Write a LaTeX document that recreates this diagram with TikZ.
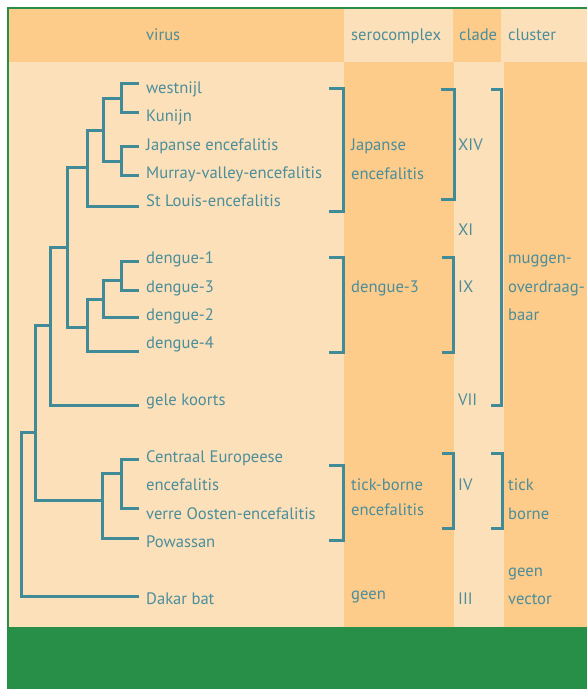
\documentclass[tikz,border=0pt]{standalone}
\usepackage{fontspec}
\setmainfont{PT Sans}
\definecolor{paleband}{HTML}{FCE0B9}
\definecolor{deepband}{HTML}{FDCB8A}
\definecolor{framegreen}{HTML}{288F48}
\definecolor{inkteal}{HTML}{4B8E9B}
\definecolor{treeline}{HTML}{418A98}
% square bracket: arms start at x=#1, spine at x=#2, from y=#3 to y=#4
\newcommand{\bracketmark}[4]{\draw[branch] (#1,#3) -| (#2,#4) -- (#1,#4);}
\begin{document}
\begin{tikzpicture}[x=1pt,y=-1pt,
  branch/.style={draw=treeline, line width=3pt, line join=miter},
  lbl/.style={text=inkteal, font=\fontsize{16.6}{19}\selectfont, anchor=base west, inner sep=0pt, yshift=1.8pt},
]
\useasboundingbox (0,0) rectangle (587,689);
\fill[white] (0,0) rectangle (587,689);
% green frame and foot band
\fill[framegreen] (7,7) rectangle (587,689);
% header cells
\fill[deepband] (9,9) rectangle (343.5,62);
\fill[paleband] (343.5,9) rectangle (453,62);
\fill[deepband] (453,9) rectangle (501,62);
\fill[paleband] (501,9) rectangle (587,62);
% column bodies
\fill[paleband] (9,62) rectangle (343.5,627);
\fill[deepband] (343.5,62) rectangle (454,627);
\fill[paleband] (454,62) rectangle (503.5,627);
\fill[deepband] (503.5,62) rectangle (587,627);

% header texts
\node[lbl] (h-virus) at (146,41.8) {virus};
\node[lbl] (h-sero) at (351,41.8) {serocomplex};
\node[lbl] (h-clade) at (459,41.8) {clade};
\node[lbl] (h-cluster) at (508,41.8) {cluster};

% leaf labels
\node[lbl] (t-wn) at (146,95) {westnijl};
\node[lbl] (t-ku) at (146,123.4) {Kunijn};
\node[lbl] (t-je) at (146,151.8) {Japanse encefalitis};
\node[lbl] (t-mv) at (146,180.2) {Murray-valley-encefalitis};
\node[lbl] (t-sl) at (146,208.6) {St Louis-encefalitis};
\node[lbl] (t-d1) at (146,265.4) {dengue-1};
\node[lbl] (t-d3) at (146,293.8) {dengue-3};
\node[lbl] (t-d2) at (146,322.2) {dengue-2};
\node[lbl] (t-d4) at (146,350.6) {dengue-4};
\node[lbl] (t-gk) at (146,407.4) {gele koorts};
\node[lbl] (t-ce) at (146,464.2) {Centraal Europeese};
\node[lbl] (t-ce2) at (146,492.6) {encefalitis};
\node[lbl] (t-vo) at (146,521) {verre Oosten-encefalitis};
\node[lbl] (t-pw) at (146,549.4) {Powassan};
\node[lbl] (t-db) at (146,606.2) {Dakar bat};

% serocomplex labels
\node[lbl] (s-je1) at (351,152.5) {Japanse};
\node[lbl] (s-je2) at (351,181) {encefalitis};
\node[lbl] (s-den) at (351,294) {dengue-3};
\node[lbl] (s-tb1) at (351,492) {tick-borne};
\node[lbl] (s-tb2) at (351,517.5) {encefalitis};
\node[lbl] (s-none) at (351,601) {geen};

% clade labels
\node[lbl] (c-xiv) at (458,152.5) {XIV};
\node[lbl] (c-xi) at (458,237) {XI};
\node[lbl] (c-ix) at (458,293.8) {IX};
\node[lbl] (c-vii) at (458,407.4) {VII};
\node[lbl] (c-iv) at (458,492.6) {IV};
\node[lbl] (c-iii) at (458,606.2) {III};

% cluster labels
\node[lbl] (k-m1) at (508,265.4) {muggen-};
\node[lbl] (k-m2) at (508,293.8) {overdraag-};
\node[lbl] (k-m3) at (508,322.2) {baar};
\node[lbl] (k-t1) at (508,492.6) {tick};
\node[lbl] (k-t2) at (508,521) {borne};
\node[lbl] (k-g1) at (508,577.8) {geen};
\node[lbl] (k-g2) at (508,606.2) {vector};

% branch tips
\coordinate (wn) at (139,83.3);
\coordinate (ku) at (139,112.7);
\coordinate (je) at (139,146);
\coordinate (mv) at (139,175);
\coordinate (sl) at (139,206);
\coordinate (d1) at (139,261);
\coordinate (d3) at (139,290);
\coordinate (d2) at (139,317.7);
\coordinate (d4) at (139,351.7);
\coordinate (gk) at (139,405);
\coordinate (ce) at (139,459);
\coordinate (vo) at (139,508.3);
\coordinate (pw) at (139,538.7);
\coordinate (db) at (139,596);

% inner nodes
\coordinate (n1) at (121,98.3);
\coordinate (n2) at (121,161);
\coordinate (n12) at (103.3,130.7);
\coordinate (n3) at (87.7,167.7);
\coordinate (n5) at (121,280);
\coordinate (n6) at (103.3,299);
\coordinate (nd) at (87.5,327);
\coordinate (n4) at (67.3,247);
\coordinate (n7) at (50.7,325.7);
\coordinate (n9) at (121,473.3);
\coordinate (nt) at (102.7,500);
\coordinate (n8) at (35.7,432.3);
\coordinate (root) at (21,514);

% tree
\draw[branch] (wn) -| (n1) |- (ku);
\draw[branch] (je) -| (n2) |- (mv);
\draw[branch] (n1) -| (n12) |- (n2);
\draw[branch] (n12) -| (n3) |- (sl);
\draw[branch] (d1) -| (n5) |- (d3);
\draw[branch] (n5) -| (n6) |- (d2);
\draw[branch] (n6) -| (nd) |- (d4);
\draw[branch] (n3) -| (n4) |- (nd);
\draw[branch] (n4) -| (n7) |- (gk);
\draw[branch] (ce) -| (n9) |- (vo);
\draw[branch] (n9) -| (nt) |- (pw);
\draw[branch] (n7) -| (n8) |- (nt);
\draw[branch] (n8) -| (root) |- (db);

% group brackets
\bracketmark{329.3}{343.3}{88.3}{211}
\bracketmark{440.7}{454.3}{89}{199}
\bracketmark{490.7}{501.7}{89}{405}
\bracketmark{329.3}{343.3}{257}{352}
\bracketmark{442}{453.5}{257}{352}
\bracketmark{329.3}{343.3}{465}{540}
\bracketmark{442}{453.5}{453}{528}
\bracketmark{490.7}{502}{453}{528}
\end{tikzpicture}
\end{document}
